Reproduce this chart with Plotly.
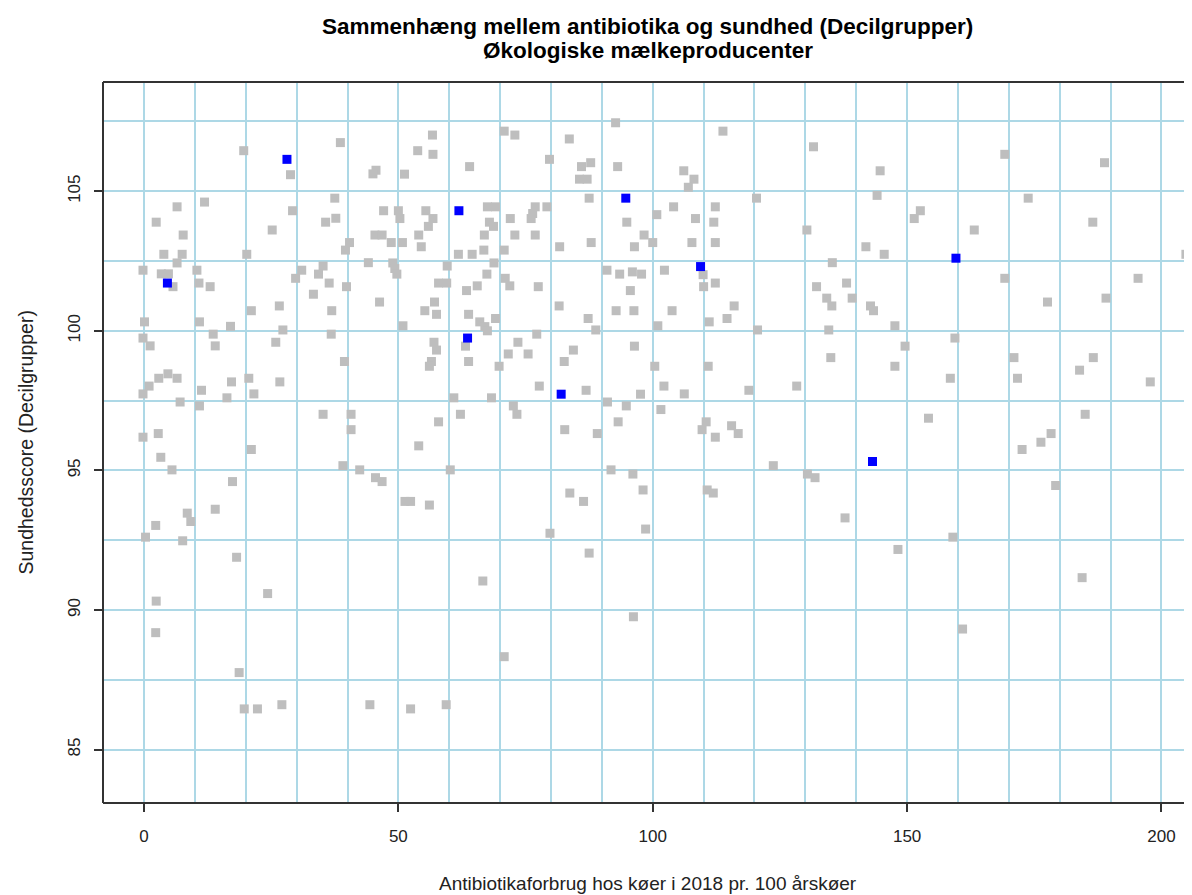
import plotly.graph_objects as go

# Grey points: all herds (x = antibiotic use, y = health score)
grey_x = [19.6, 38.6, 28.8, 11.9, 6.5, 37.5, 29.2, 2.4, 35.7, 37.7, 25.2, 7.7, 40.4, 39.6, 3.9, 7.5, 20.2, 6.5, -0.2, 3.4,
          4.8, 5.7, 10.4, 10.8, 13.0, 31.0, 29.8, 35.2, 34.3, 36.4, 39.8, 44.1, 33.3, 21.1, 26.6, 36.9, 0.1, 10.9,
          92.7, 56.7, 70.8, 72.9, 83.6, 53.8, 56.8, 79.7, 86.0, 87.8, 93.1, 64.0, 45.6, 45.0, 51.2, 85.6, 87.1, 87.5,
          47.1, 50.0, 50.3, 55.4, 56.8, 55.9, 67.5, 69.1, 67.9, 68.7, 72.0, 76.9, 76.4, 76.1, 79.2, 94.9, 45.4, 46.8,
          54.0, 66.9, 72.9, 76.9, 98.3, 48.6, 50.8, 54.5, 66.8, 70.8, 81.7, 87.9, 96.4, 61.8, 64.5, 48.9, 49.3, 49.7,
          59.6, 68.8, 67.4, 71.0, 71.9, 77.5, 57.9, 59.5, 63.4, 65.5, 91.0, 93.5, 96.0, 97.8, 95.6, 46.3, 57.1, 55.2,
          57.5, 81.6, 92.8, 96.3, 87.3, 63.8, 66.0, 69.1,
          113.8, 131.6, 106.1, 108.1, 107.0, 144.7, 120.4, 144.1, 104.1, 112.3, 100.8, 108.4, 112.0, 130.3, 152.6,
          151.4, 100.0, 107.7, 112.3, 141.9, 145.5, 135.3, 109.9, 110.0, 112.3, 102.3, 132.2, 138.1, 134.2, 135.2,
          139.2, 142.8, 143.4, 103.8, 116.0, 114.6, 111.1,
          169.2, 188.8, 173.8, 163.2, 186.5, 204.8, 169.2, 177.6, 195.4, 189.1,
          17.0, 13.6, 27.3, 36.8, -0.2, 1.2, 14.0, 25.9, 39.4, 2.9, 4.7, 6.5, 1.0, -0.2, 17.2, 20.6, 26.7, 11.3, 21.6,
          7.1, 16.3, 10.9, 35.2, 40.7, 40.7, -0.2, 2.8, 21.1, 3.3, 5.5, 39.1, 42.4, 17.4, 14.0, 8.5, 9.2, 2.3, 0.3,
          7.6, 18.2,
          50.9, 67.0, 67.5, 57.0, 57.5, 63.2, 73.5, 77.2, 71.6, 75.5, 84.4, 82.6, 88.8, 96.4, 56.5, 56.1, 63.8, 69.8,
          77.7, 86.9, 97.6, 60.9, 68.3, 72.6, 73.3, 91.1, 94.8, 62.2, 57.9, 93.2, 82.7, 89.1, 54.0, 60.2, 45.5, 46.8,
          91.8, 96.1, 98.1, 83.7, 86.4, 51.3, 52.4, 56.1, 79.8, 98.6, 87.5,
          101.0, 120.6, 134.6, 147.6, 149.6, 135.0, 147.6, 100.4, 110.9, 102.2, 106.2, 118.9, 128.3, 101.6, 110.5,
          109.7, 112.3, 115.5, 116.8, 123.7, 130.4, 131.9, 110.7, 111.9, 137.8, 148.2,
          159.4, 158.5, 171.0, 171.7, 183.9, 186.6, 197.8, 154.2, 185.0, 178.3, 176.3, 172.6, 179.2, 159.0,
          2.4, 2.3, 24.3, 18.7, 19.7, 22.3, 27.1, 44.4,
          66.6, 96.2, 70.8, 52.4, 59.4,
          184.4, 160.9]
grey_y = [106.45, 106.74, 105.59, 104.61, 104.44, 104.75, 104.30, 103.89, 103.89, 104.03, 103.61, 103.43, 103.16, 102.89,
          102.74, 102.74, 102.74, 102.43, 102.17, 102.04, 102.04, 101.58, 102.17, 101.71, 101.58, 102.17, 101.88, 102.32,
          102.03, 101.71, 101.58, 102.44, 101.31, 100.72, 100.89, 100.72, 100.32, 100.32,
          107.45, 107.01, 107.15, 107.01, 106.87, 106.45, 106.32, 106.14, 105.88, 106.02, 105.88, 105.88, 105.75, 105.62,
          105.61, 105.43, 105.43, 104.75, 104.30, 104.30, 104.02, 104.30, 104.02, 103.74, 104.44, 104.44, 103.89, 103.74,
          104.02, 104.44, 104.20, 104.02, 104.44, 103.89, 103.43, 103.43, 103.43, 103.43, 103.43, 103.43, 103.43, 103.16,
          103.16, 103.01, 102.89, 102.89, 103.01, 103.16, 103.01, 102.74, 102.74, 102.43, 102.23, 102.03, 102.32, 102.43,
          102.03, 101.88, 101.61, 101.58, 101.71, 101.71, 101.44, 101.61, 102.17, 102.03, 102.11, 102.03, 101.44, 101.03,
          101.03, 100.72, 100.59, 100.89, 100.72, 100.72, 100.44, 100.59, 100.32, 100.44,
          107.15, 106.59, 105.73, 105.43, 105.14, 105.73, 104.75, 104.85, 104.44, 104.44, 104.16, 104.02, 103.89, 103.61,
          104.30, 104.02, 103.16, 103.16, 103.16, 103.01, 102.74, 102.44, 102.01, 101.58, 101.71, 102.17, 101.58, 101.71,
          101.17, 100.89, 101.17, 100.89, 100.72, 100.72, 100.89, 100.44, 100.32,
          106.32, 106.02, 104.75, 103.61, 103.89, 102.74, 101.88, 101.03, 101.88, 101.17,
          100.16, 99.88, 100.03, 99.88, 99.74, 99.46, 99.46, 99.59, 98.90, 98.30, 98.46, 98.30, 98.02, 97.74, 98.17, 98.30,
          98.17, 97.87, 97.74, 97.45, 97.60, 97.31, 97.01, 97.01, 96.46, 96.19, 96.32, 95.75, 95.47, 95.02, 95.17, 95.02,
          94.60, 93.61, 93.47, 93.17, 93.03, 92.61, 92.48, 91.89,
          100.18, 100.15, 100.00, 99.59, 99.31, 99.45, 99.59, 99.88, 99.17, 99.17, 99.31, 98.90, 100.03, 99.45, 98.90,
          98.73, 98.90, 98.73, 98.02, 97.87, 97.73, 97.60, 97.60, 97.31, 97.01, 97.45, 97.31, 97.01, 96.74, 96.74, 96.46,
          96.32, 95.88, 95.02, 94.74, 94.60, 95.02, 94.87, 94.30, 94.19, 93.89, 93.89, 93.89, 93.76, 92.75, 92.90, 92.04,
          100.18, 100.03, 100.03, 100.18, 99.45, 99.04, 98.73, 98.73, 98.73, 98.02, 97.74, 97.87, 98.02, 97.18, 96.74,
          96.46, 96.19, 96.60, 96.32, 95.17, 94.87, 94.74, 94.30, 94.19, 93.30, 92.17,
          99.74, 98.30, 99.04, 98.30, 98.59, 99.04, 98.17, 96.87, 97.01, 96.32, 96.01, 95.75, 94.46, 92.61,
          90.32, 89.19, 90.59, 87.76, 86.46, 86.46, 86.61, 86.61,
          91.04, 89.76, 88.33, 86.46, 86.61,
          91.16, 89.32]

# Blue points: decile-group averages
blue_x = [4.6, 28.1, 61.9, 94.7, 109.4, 159.6, 63.6, 82.0, 143.2]
blue_y = [101.71, 106.14, 104.30, 104.75, 102.30, 102.60, 99.74, 97.73, 95.32]

x_ticks = [0, 50, 100, 150, 200]
y_ticks = [85, 90, 95, 100, 105]

title_1 = "Sammenhæng mellem antibiotika og sundhed (Decilgrupper)"
title_2 = "Økologiske mælkeproducenter"
x_title = "Antibiotikaforbrug hos køer i 2018 pr. 100 årskøer"
y_title = "Sundhedsscore (Decilgrupper)"

FONT = "Liberation Sans, Arial, sans-serif"
GRID = "#ADD8E6"
AXC = "#333333"

fig = go.Figure()
fig.add_trace(go.Scatter(x=grey_x, y=grey_y, mode="markers",
                         marker=dict(symbol="square", size=9, color="#BEBEBE", line=dict(width=0)),
                         showlegend=False, hoverinfo="x+y"))
fig.add_trace(go.Scatter(x=blue_x, y=blue_y, mode="markers",
                         marker=dict(symbol="square", size=9, color="#0000FF", line=dict(width=0)),
                         showlegend=False, hoverinfo="x+y"))

# The page body adds an 8px margin; the figure is sized so the plot sits where the reference has it.
fig.update_layout(
    width=1184, height=887,
    margin=dict(l=95, r=0, t=74, b=92, pad=0),
    paper_bgcolor="white", plot_bgcolor="white",
    font=dict(family=FONT, size=18, color="#222222"),
    xaxis=dict(range=[-8.06, 206.0], tickvals=x_ticks, ticks="outside", ticklen=8, tickwidth=1.5,
               tickcolor=AXC, showgrid=True, gridcolor=GRID, gridwidth=2, zeroline=False, showline=False,
               minor=dict(dtick=10, tick0=0, showgrid=True, gridcolor=GRID, gridwidth=2, ticks=""),
               tickfont=dict(size=17), ticklabelstandoff=10),
    yaxis=dict(range=[83.09, 108.91], tickvals=y_ticks, ticks="outside", ticklen=8, tickwidth=1.5,
               tickcolor=AXC, showgrid=True, gridcolor=GRID, gridwidth=2, zeroline=False, showline=False,
               minor=dict(dtick=2.5, tick0=0, showgrid=True, gridcolor=GRID, gridwidth=2, ticks=""),
               tickangle=-90, tickfont=dict(size=17), ticklabelstandoff=7),
    annotations=[
        dict(text="<b>" + title_1 + "</b>", xref="paper", yref="paper", x=0.5, y=1.0765,
             xanchor="center", yanchor="middle", showarrow=False, font=dict(size=22.5, color="black")),
        dict(text="<b>" + title_2 + "</b>", xref="paper", yref="paper", x=0.5, y=1.0430,
             xanchor="center", yanchor="middle", showarrow=False, font=dict(size=22.5, color="black")),
        dict(text=x_title, xref="paper", yref="paper", x=0.5, y=-0.1119,
             xanchor="center", yanchor="middle", showarrow=False, font=dict(size=19)),
        dict(text=y_title, xref="paper", yref="paper", x=-0.0716, y=0.5, textangle=-90,
             xanchor="center", yanchor="middle", showarrow=False, font=dict(size=19.5)),
    ],
    shapes=[
        dict(type="line", xref="paper", yref="paper", x0=0, x1=0, y0=0, y1=1, line=dict(color=AXC, width=2)),
        dict(type="line", xref="paper", yref="paper", x0=0, x1=1, y0=1, y1=1, line=dict(color=AXC, width=2)),
        dict(type="line", xref="paper", yref="paper", x0=0, x1=1, y0=0, y1=0, line=dict(color=AXC, width=2)),
    ],
)

fig.write_html("out.html")
